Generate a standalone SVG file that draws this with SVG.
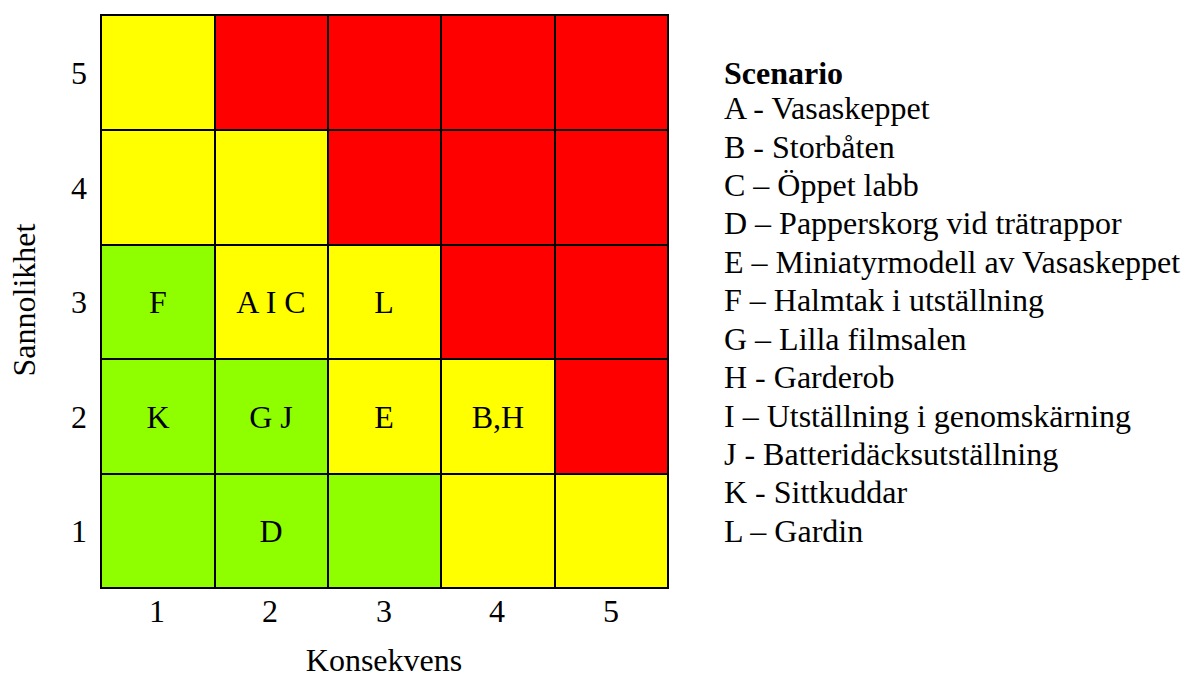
<svg xmlns="http://www.w3.org/2000/svg" width="1189" height="677" viewBox="0 0 1189 677">
<style>
.r{fill:#FF0000}.y{fill:#FFFF00}.g{fill:#8FFF00}
.c{stroke:#000;stroke-width:2}
text{font-family:"Liberation Serif","Times New Roman",serif;font-size:32px;fill:#000}
.m{text-anchor:middle}
</style>
<rect width="1189" height="677" fill="#fff"/>
<g id="grid">
<rect class="y c" x="101" y="15" width="114" height="115"/>
<rect class="r c" x="215" y="15" width="113" height="115"/>
<rect class="r c" x="328" y="15" width="113" height="115"/>
<rect class="r c" x="441" y="15" width="114" height="115"/>
<rect class="r c" x="555" y="15" width="113" height="115"/>
<rect class="y c" x="101" y="130" width="114" height="115"/>
<rect class="y c" x="215" y="130" width="113" height="115"/>
<rect class="r c" x="328" y="130" width="113" height="115"/>
<rect class="r c" x="441" y="130" width="114" height="115"/>
<rect class="r c" x="555" y="130" width="113" height="115"/>
<rect class="g c" x="101" y="245" width="114" height="114"/>
<rect class="y c" x="215" y="245" width="113" height="114"/>
<rect class="y c" x="328" y="245" width="113" height="114"/>
<rect class="r c" x="441" y="245" width="114" height="114"/>
<rect class="r c" x="555" y="245" width="113" height="114"/>
<rect class="g c" x="101" y="359" width="114" height="115"/>
<rect class="g c" x="215" y="359" width="113" height="115"/>
<rect class="y c" x="328" y="359" width="113" height="115"/>
<rect class="y c" x="441" y="359" width="114" height="115"/>
<rect class="r c" x="555" y="359" width="113" height="115"/>
<rect class="g c" x="101" y="474" width="114" height="114"/>
<rect class="g c" x="215" y="474" width="113" height="114"/>
<rect class="g c" x="328" y="474" width="113" height="114"/>
<rect class="y c" x="441" y="474" width="114" height="114"/>
<rect class="y c" x="555" y="474" width="113" height="114"/>
</g>
<g id="cells">
<text class="m" x="158" y="313">F</text>
<text class="m" x="271" y="313">A I C</text>
<text class="m" x="384" y="313">L</text>
<text class="m" x="158" y="428">K</text>
<text class="m" x="271" y="428">G J</text>
<text class="m" x="384" y="428">E</text>
<text class="m" x="498" y="428">B,H</text>
<text class="m" x="271" y="542">D</text>
</g>
<g id="axes">
<text class="m" x="79" y="84">5</text>
<text class="m" x="79" y="199">4</text>
<text class="m" x="79" y="313">3</text>
<text class="m" x="79" y="428">2</text>
<text class="m" x="79" y="542">1</text>
<text class="m" x="157" y="622">1</text>
<text class="m" x="270" y="622">2</text>
<text class="m" x="384" y="622">3</text>
<text class="m" x="497" y="622">4</text>
<text class="m" x="611" y="622">5</text>
<text class="m" x="384" y="671">Konsekvens</text>
<text class="m" transform="translate(35,300) rotate(-90)">Sannolikhet</text>
</g>
<g id="legend">
<text x="724" y="84" font-weight="bold">Scenario</text>
<text x="724" y="119">A - Vasaskeppet</text>
<text x="724" y="158">B - Storbåten</text>
<text x="724" y="196">C – Öppet labb</text>
<text x="724" y="234">D – Papperskorg vid trätrappor</text>
<text x="724" y="273">E – Miniatyrmodell av Vasaskeppet</text>
<text x="724" y="311">F – Halmtak i utställning</text>
<text x="724" y="350">G – Lilla filmsalen</text>
<text x="724" y="388">H - Garderob</text>
<text x="724" y="427">I – Utställning i genomskärning</text>
<text x="724" y="465">J - Batteridäcksutställning</text>
<text x="724" y="503">K - Sittkuddar</text>
<text x="724" y="542">L – Gardin</text>
</g>
</svg>
